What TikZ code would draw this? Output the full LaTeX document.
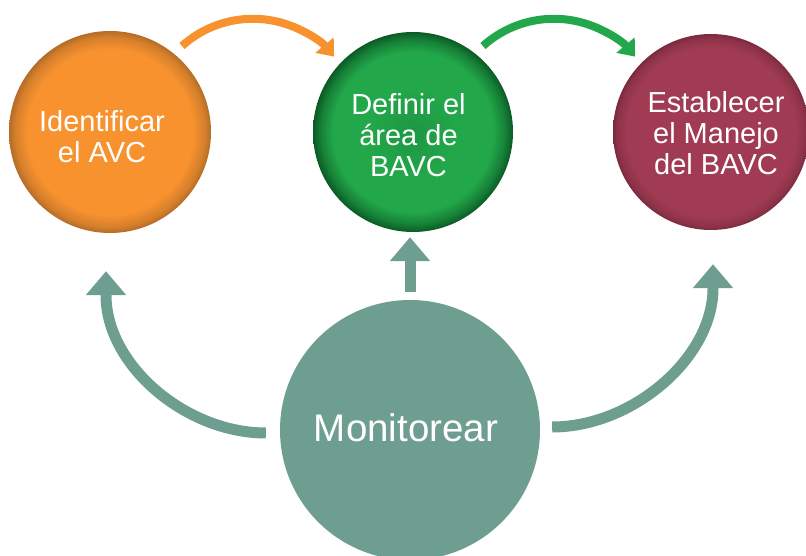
\documentclass[tikz,border=0pt]{standalone}
\usepackage{fontspec}
\setmainfont{Liberation Sans}
\usetikzlibrary{arrows.meta,calc}
\definecolor{org}{HTML}{F7922F}
\definecolor{orgD}{HTML}{B46C28}
\colorlet{orgM}{orgD!50!org}
\definecolor{grn}{HTML}{22A84A}
\definecolor{grnC}{HTML}{1E9743}
\definecolor{grnD}{HTML}{0B5A25}
\colorlet{grnM}{grnD!50!grn}
\definecolor{mar}{HTML}{A03B53}
\definecolor{marD}{HTML}{7A2A3E}
\colorlet{marM}{marD!50!mar}
\definecolor{tealc}{HTML}{6E9E90}
\pgfdeclareradialshading{orball}{\pgfpoint{0bp}{0bp}}{color(0bp)=(org); color(20.5bp)=(org); color(23.5bp)=(orgM); color(25bp)=(orgD); color(50bp)=(orgD)}
\pgfdeclareradialshading{grball}{\pgfpoint{0bp}{0bp}}{color(0bp)=(grnC); color(12bp)=(grn); color(20bp)=(grn); color(23bp)=(grnM); color(25bp)=(grnD); color(50bp)=(grnD)}
\pgfdeclareradialshading{maball}{\pgfpoint{0bp}{0bp}}{color(0bp)=(mar); color(21.5bp)=(mar); color(24bp)=(marM); color(25bp)=(marD); color(50bp)=(marD)}
\begin{document}
\begin{tikzpicture}[x=1pt,y=1pt,
  ball/.style={circle, inner sep=0pt, minimum size=#1},
  lbl/.style={text=white, align=center, inner sep=0pt, font=\fontsize{29}{31}\selectfont},
  bigarrow/.style={line width=8pt, -{Triangle[length=15pt,width=23pt]}},
  tealarrow/.style={draw=tealc, line width=11pt, -{Triangle[length=24pt,width=39pt]}}]
\useasboundingbox (0,0) rectangle (806,555);

% circles
\node[ball=202pt, shade, shading=orball] (A) at (110,423) {};
\node[ball=200pt, shade, shading=grball] (B) at (413,423) {};
\node[ball=196pt, shade, shading=maball] (C) at (711,423) {};
\node[ball=260pt, fill=tealc] (M) at (410,125) {};

% labels
\node[lbl] (At) at (102,418.2) {Identificar\\el AVC};
\node[lbl] (Bt) at (408.5,419.7) {Definir el\\área de\\BAVC};
\node[lbl] (Ct) at (716,421.7) {Establecer\\el Manejo\\del BAVC};
\node[text=white, inner sep=0pt, font=\fontsize{38.5}{42}\selectfont] (Mt) at (406,127) {Monitorear};

% top arrows
\coordinate (oa) at ($(A)+(72,86)$);
\coordinate (ga) at ($(B)+(70,86)$);
\draw[bigarrow, org] (oa) arc[start angle=132, end angle=40, radius=106];
\draw[bigarrow, grn] (ga) arc[start angle=132, end angle=40, radius=106];

% teal arrows
\coordinate (ls) at ($(M.west)+(-14,-3)$);
\coordinate (lt) at ($(A.south)+(-4,-38)$);
\coordinate (rs) at ($(M.east)+(12,3)$);
\coordinate (rt) at ($(C.south)+(2,-34)$);
\draw[tealarrow] (ls) .. controls +(-80,0) and +(0,-70) .. ($(lt)+(0,-24)$) -- (lt);
\draw[tealarrow] (rs) .. controls +(80,0) and +(0,-70) .. ($(rt)+(0,-24)$) -- (rt);
\draw[tealarrow] ($(M.north)+(0,8)$) -- ($(B.south)+(-3,-5)$);
\end{tikzpicture}
\end{document}
